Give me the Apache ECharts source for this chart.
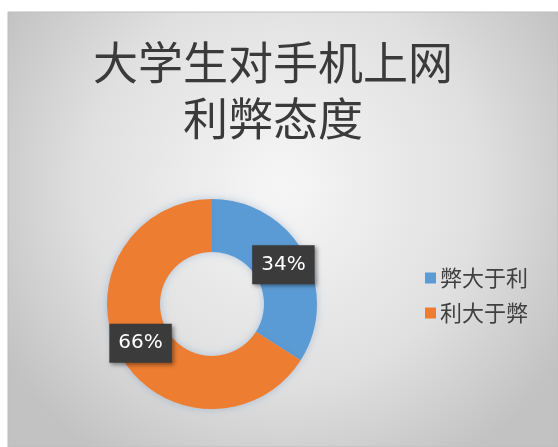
<!DOCTYPE html>
<html>
<head>
<meta charset="utf-8">
<script src="https://cdn.jsdelivr.net/npm/echarts@6/dist/echarts.min.js"></script>
<style>
html,body{margin:0;padding:0;background:#fff;}
#c{width:558px;height:447px;}
</style>
</head>
<body>
<div id="c"></div>
<script>
const titleLines = ['大学生对手机上网', '利弊态度'];
const categories = ['弊大于利', '利大于弊'];
const values = [34, 66];
const colors = ['#5b9bd5', '#ed7d31'];

const chart = echarts.init(document.getElementById('c'));
chart.setOption({
  animation: false,
  graphic: [{
    type: 'rect', z: -10,
    shape: {x: 8, y: 12, width: 550, height: 435},
    style: {
      fill: new echarts.graphic.RadialGradient(0.5, 0.4, 0.75, [
        {offset: 0, color: '#f6f6f6'},
        {offset: 0.6, color: '#e0e0e0'},
        {offset: 1, color: '#c2c2c2'}
      ]),
      stroke: '#bdbdbd', lineWidth: 1
    }
  }],
  title: {
    text: titleLines.join('\n'),
    left: 268, top: 30, textAlign: 'center',
    textStyle: {
      fontFamily: 'Noto Sans CJK SC', fontSize: 45, fontWeight: 'normal',
      color: '#3a3a3a', lineHeight: 56
    }
  },
  legend: {
    orient: 'vertical', left: 420, top: 262,
    itemWidth: 11, itemHeight: 11, itemGap: 13,
    icon: 'rect',
    textStyle: {fontFamily: 'Noto Sans CJK SC', fontSize: 22, color: '#404040', padding: [0,0,0,-1]},
    data: categories
  },
  series: [{
    type: 'pie',
    center: [212, 304],
    radius: [52, 105],
    startAngle: 90,
    clockwise: true,
    color: colors,
    label: {
      show: true, position: 'inside',
      formatter: '{d}%',
      fontFamily: 'DejaVu Sans', fontSize: 20, color: '#fff',
      backgroundColor: '#3b3b3b', padding: [10, 9, 9, 9],
      shadowColor: 'rgba(0,0,0,0.4)', shadowBlur: 4, shadowOffsetX: 2, shadowOffsetY: 2
    },
    labelLine: {show: false},
    itemStyle: {shadowColor: 'rgba(80,130,190,0.35)', shadowBlur: 8},
    data: categories.map((n, i) => ({name: n, value: values[i]}))
  }]
});
</script>
</body>
</html>
